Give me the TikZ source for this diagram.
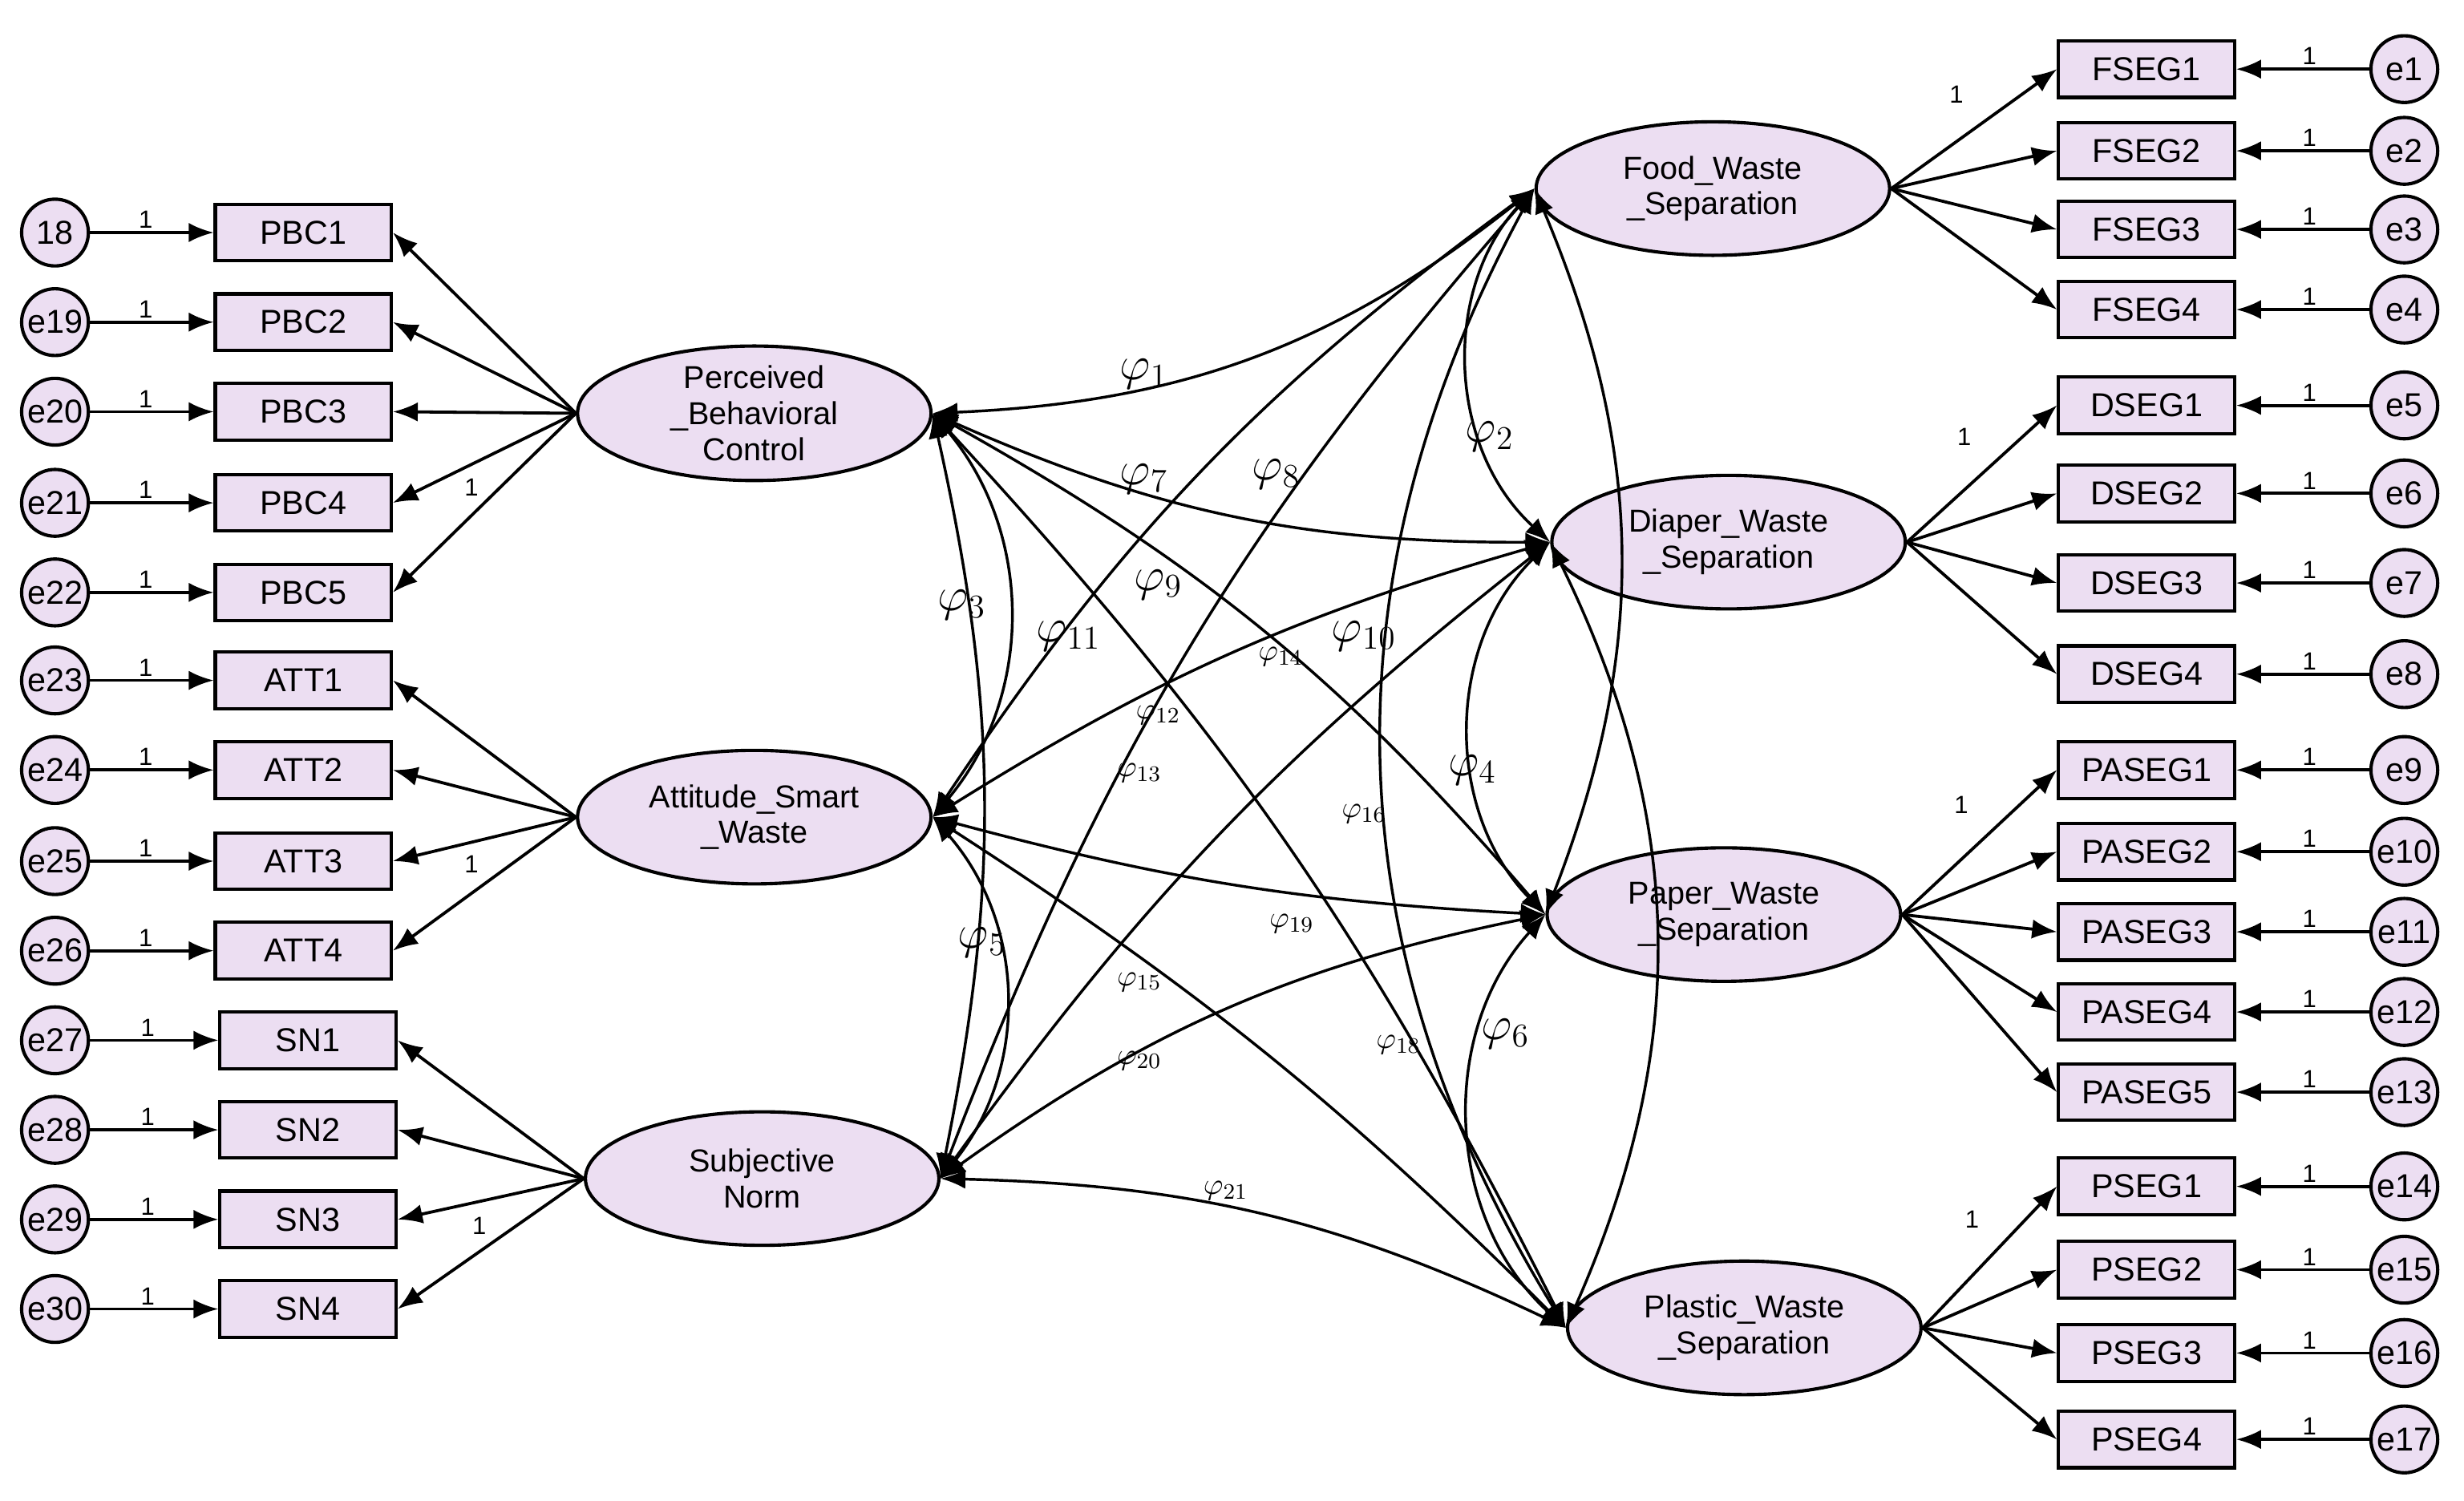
\documentclass[tikz,border=0pt]{standalone}
\usepackage{fontspec}
\setmainfont{Liberation Sans}
\newfontfamily\lmr{Latin Modern Roman}
\usetikzlibrary{shapes.geometric,arrows.meta}
\definecolor{fillc}{RGB}{236,222,242}
\begin{document}
\begin{tikzpicture}[x=0.02cm,y=-0.02cm,
 box/.style={draw,line width=1.2pt,fill=fillc,minimum width=2.24cm,minimum height=0.72cm,font=\fontsize{12}{14}\selectfont,inner sep=1pt},
 err/.style={draw,circle,line width=1.2pt,fill=fillc,minimum size=0.85cm,inner sep=0pt,font=\fontsize{12}{14}\selectfont},
 lat/.style={draw,ellipse,line width=1.2pt,fill=fillc,minimum width=4.5cm,minimum height=1.7cm,align=center,inner sep=0pt,font=\fontsize{11.5}{13}\selectfont},
 arr/.style={-{Latex[length=9pt,width=7pt]},line width=1.1pt},
 cov/.style={{Latex[length=9pt,width=7pt]}-{Latex[length=9pt,width=7pt]},line width=1pt},
 one/.style={font=\fontsize{9}{10}\selectfont,inner sep=1pt},
 bp/.style={font=\lmr\fontsize{18}{19}\selectfont},
 sp/.style={font=\lmr\fontsize{11}{12}\selectfont}]
\useasboundingbox (0,0) rectangle (1568,955);
% left latents
\node[lat] (pbc) at (480,263) {Perceived\\\_Behavioral\\Control};
\node[lat] (att) at (480,520) {Attitude\_Smart\\\_Waste};
\node[lat] (sn) at (485,750) {Subjective\\Norm};
% right latents
\node[lat] (food) at (1090,120) {Food\_Waste\\\_Separation};
\node[lat] (diap) at (1100,345) {Diaper\_Waste\\\_Separation};
\node[lat] (pap) at (1097,582) {Paper\_Waste\\\_Separation};
\node[lat] (pla) at (1110,845) {Plastic\_Waste\\\_Separation};
% left indicators
\foreach \n/\x/\y/\e/\l in {PBC1/193/148/18/pbc,PBC2/193/205/e19/pbc,PBC3/193/262/e20/pbc,PBC4/193/320/e21/pbc,PBC5/193/377/e22/pbc,
 ATT1/193/433/e23/att,ATT2/193/490/e24/att,ATT3/193/548/e25/att,ATT4/193/605/e26/att,
 SN1/196/662/e27/sn,SN2/196/719/e28/sn,SN3/196/776/e29/sn,SN4/196/833/e30/sn}{
 \node[box] (b\n) at (\x,\y) {\n};
 \node[err] (e\n) at (35,\y) {\e};
 \draw[arr] (e\n) -- node[one,above,pos=0.45]{1} (b\n);
 \draw[arr] (\l.west) -- (b\n.east);
}
\node[one] at (300,310) {1};
\node[one] at (300,550) {1};
\node[one] at (305,780) {1};
% right indicators
\foreach \n/\y/\e/\l in {FSEG1/44/e1/food,FSEG2/96/e2/food,FSEG3/146/e3/food,FSEG4/197/e4/food,
 DSEG1/258/e5/diap,DSEG2/314/e6/diap,DSEG3/371/e7/diap,DSEG4/429/e8/diap,
 PASEG1/490/e9/pap,PASEG2/542/e10/pap,PASEG3/593/e11/pap,PASEG4/644/e12/pap,PASEG5/695/e13/pap,
 PSEG1/755/e14/pla,PSEG2/808/e15/pla,PSEG3/861/e16/pla,PSEG4/916/e17/pla}{
 \node[box] (b\n) at (1366,\y) {\n};
 \node[err] (e\n) at (1530,\y) {\e};
 \draw[arr] (e\n) -- node[one,above,pos=0.45]{1} (b\n);
 \draw[arr] (\l.east) -- (b\n.west);
}
\node[one] at (1245,60) {1};
\node[one] at (1250,278) {1};
\node[one] at (1248,512) {1};
\node[one] at (1255,776) {1};
% covariances
\draw[cov] (pbc.east) to[bend right=18] (food.west);
\draw[cov] (food.west) to[bend right=45] (diap.west);
\draw[cov] (pbc.east) to[bend left=40] (att.east);
\draw[cov] (diap.west) to[bend right=45] (pap.west);
\draw[cov] (att.east) to[bend left=40] (sn.east);
\draw[cov] (pap.west) to[bend right=45] (pla.west);
\draw[cov] (pbc.east) to[bend right=12] (diap.west);
\draw[cov] (food.west) to[bend right=30] (pla.west);
\draw[cov] (pbc.east) to[bend left=8] (pla.west);
\draw[cov] (diap.west) to[bend left=25] (pla.west);
\draw[cov] (pbc.east) to[bend left=12] (sn.east);
\draw[cov] (att.east) to[bend left=10] (food.west);
\draw[cov] (att.east) to[bend left=8] (diap.west);
\draw[cov] (food.west) to[bend right=10] (sn.east);
\draw[cov] (diap.west) to[bend right=8] (sn.east);
\draw[cov] (food.west) to[bend left=22] (pap.west);
\draw[cov] (pbc.east) to[bend left=10] (pap.west);
\draw[cov] (att.east) to[bend right=6] (pap.west);
\draw[cov] (sn.east) to[bend left=12] (pap.west);
\draw[cov] (att.east) to[bend left=6] (pla.west);
\draw[cov] (sn.east) to[bend left=12] (pla.west);
% labels
\node[bp] at (728,238) {$\varphi_{1}$};
\node[bp] at (948,278) {$\varphi_{2}$};
\node[bp] at (612,385) {$\varphi_{3}$};
\node[bp] at (937,490) {$\varphi_{4}$};
\node[bp] at (625,600) {$\varphi_{5}$};
\node[bp] at (958,658) {$\varphi_{6}$};
\node[bp] at (728,305) {$\varphi_{7}$};
\node[bp] at (812,302) {$\varphi_{8}$};
\node[bp] at (737,372) {$\varphi_{9}$};
\node[bp] at (868,405) {$\varphi_{10}$};
\node[bp] at (680,405) {$\varphi_{11}$};
\node[sp] at (737,455) {$\varphi_{12}$};
\node[sp] at (725,492) {$\varphi_{13}$};
\node[sp] at (815,418) {$\varphi_{14}$};
\node[sp] at (725,625) {$\varphi_{15}$};
\node[sp] at (868,518) {$\varphi_{16}$};
\node[sp] at (890,665) {$\varphi_{18}$};
\node[sp] at (822,588) {$\varphi_{19}$};
\node[sp] at (725,675) {$\varphi_{20}$};
\node[sp] at (780,758) {$\varphi_{21}$};
\end{tikzpicture}
\end{document}
